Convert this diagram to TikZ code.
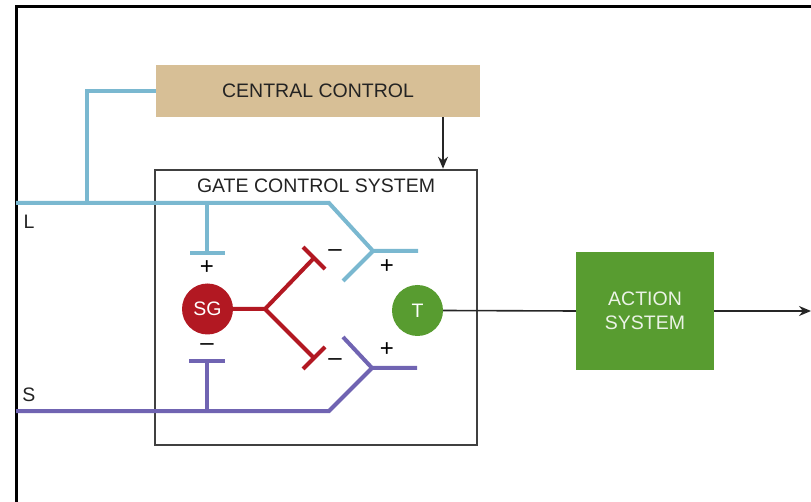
\documentclass[tikz,border=0pt]{standalone}
\usepackage{fontspec}
\setmainfont{Liberation Sans}
\usetikzlibrary{arrows.meta, positioning}
\definecolor{ctan}{RGB}{215,191,150}
\definecolor{lblue}{RGB}{122,184,208}
\definecolor{lpurple}{RGB}{112,100,178}
\definecolor{dred}{RGB}{178,24,34}
\definecolor{dgreen}{RGB}{88,156,48}
\definecolor{txtgray}{RGB}{35,35,35}

\begin{document}
\begin{tikzpicture}[
    x=1pt, y=-1pt,
    txt/.style={font=\fontsize{19.5}{23}\selectfont, text=txtgray, inner sep=0pt},
    ctrl/.style={rectangle, fill=ctan, minimum width=324pt, minimum height=52pt, txt},
    gatebox/.style={rectangle, draw=black!75, line width=2.6pt, minimum width=322pt, minimum height=275pt},
    cell/.style={circle, minimum size=51pt, inner sep=0pt, text=white, font=\fontsize{19.5}{23}\selectfont},
    actbox/.style={rectangle, fill=dgreen, minimum width=138pt, minimum height=118pt, align=center,
        text=white!88!dgreen, font=\fontsize{19.5}{24}\selectfont},
    sign/.style={txt, text=black, font=\fontsize{24}{26}\selectfont},
    lfibre/.style={draw=lblue, line width=4pt},
    sfibre/.style={draw=lpurple, line width=4pt},
    inhib/.style={draw=dred, line width=4pt},
    wire/.style={draw=black!85, line width=1.6pt},
    arrow/.style={wire, -{Stealth[length=12pt, width=10pt]}},
]
    \useasboundingbox (0,0) rectangle (811,502);

    \node[ctrl] (central) at (318,91) {CENTRAL CONTROL};
    \node[gatebox] (gate) at (316,307.5) {};
    \node[txt, below=9.5pt of gate.north] (gatelbl) {GATE CONTROL SYSTEM};
    \node[cell, fill=dred] (sg) at (207.5,309) {SG};
    \node[cell, fill=dgreen] (t) at (417.5,310.5) {T};
    \node[actbox] (action) at (645,311) {ACTION\\SYSTEM};
    \node[txt] (llbl) at (29,222) {L};
    \node[txt] (slbl) at (29,395) {S};

    \coordinate (Lin) at (16,203);
    \coordinate (Ltap) at (87,203);
    \coordinate (Lbend) at (329,203);
    \coordinate (Ljoin) at (373,251);
    \coordinate (Lend) at (418,251);
    \coordinate (Lhook) at (343,281);
    \coordinate (Lstem) at (207,203);
    \coordinate (Lbar) at (207,253);

    \coordinate (Sin) at (16,411);
    \coordinate (Sbend) at (329,411);
    \coordinate (Sjoin) at (372,368);
    \coordinate (Send) at (417,368);
    \coordinate (Shook) at (343,337);
    \coordinate (Sstem) at (207,411);
    \coordinate (Sbar) at (207,361);

    \coordinate (rj) at (265,309);
    \coordinate (rup) at (314,258);
    \coordinate (rdn) at (314,358);

    \coordinate (ccdrop) at (443,117);
    \coordinate (out) at (811,311);

    % frame
    \draw[black, line width=3pt] (811,6.5) -| (16.5,502);

    \draw[lfibre] (central.west) -| (Ltap);
    \draw[lfibre] (Lin) -- (Lbend) -- (Ljoin) -- (Lend);
    \draw[lfibre] (Ljoin) -- (Lhook);
    \draw[lfibre] (Lstem) -- (Lbar);
    \draw[lfibre] ([xshift=-17pt]Lbar) -- ([xshift=18pt]Lbar);

    \draw[sfibre] (Sin) -- (Sbend) -- (Sjoin) -- (Send);
    \draw[sfibre] (Sjoin) -- (Shook);
    \draw[sfibre] (Sstem) -- (Sbar);
    \draw[sfibre] ([xshift=-18pt]Sbar) -- ([xshift=18pt]Sbar);

    \draw[inhib] (sg.east) -- (rj) -- (rup);
    \draw[inhib] (rj) -- (rdn);
    \draw[inhib] ([shift={(-11,-11)}]rup) -- ([shift={(11,11)}]rup);
    \draw[inhib] ([shift={(-11,11)}]rdn) -- ([shift={(11,-11)}]rdn);

    \node[sign] (p1) at (207,268) {+};
    \node[sign] (p2) at (387,267) {+};
    \node[sign] (p3) at (387,350) {+};
    \node[sign] (m1) at (207,347) {–};
    \node[sign] (m2) at (335,253) {–};
    \node[sign] (m3) at (335,362) {–};

    \draw[arrow] (ccdrop) -- (ccdrop |- gate.north);
    \draw[wire] (t.east) -- (action.west);
    \draw[arrow] (action.east) -- (out);
\end{tikzpicture}
\end{document}
